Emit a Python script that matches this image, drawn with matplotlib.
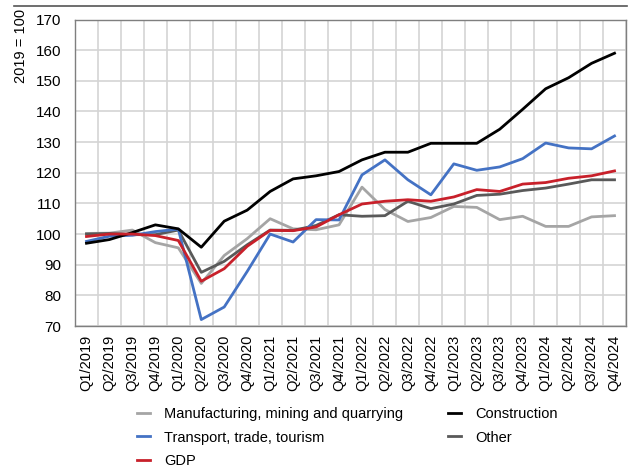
import matplotlib
matplotlib.use("Agg")
import matplotlib.pyplot as plt
from matplotlib import font_manager as fm
import matplotlib.lines as mlines

quarters = [f"Q{q}/{y}" for y in range(2019, 2025) for q in range(1, 5)]

manufacturing = [100.2, 100.3, 101.3, 97.2, 95.5, 83.9, 93.0, 98.5, 105.0, 101.7, 101.4, 103.0,
                 115.3, 108.0, 104.1, 105.4, 109.0, 108.7, 104.7, 105.8, 102.5, 102.5, 105.6, 106.0]
construction = [97.0, 98.2, 100.5, 103.0, 101.7, 95.7, 104.2, 107.8, 113.9, 118.0, 119.0, 120.4,
                124.2, 126.7, 126.7, 129.6, 129.6, 129.6, 134.2, 140.7, 147.4, 151.0, 155.7, 159.0]
transport = [97.6, 99.3, 99.6, 100.8, 101.6, 72.1, 76.2, 87.8, 100.0, 97.4, 104.7, 104.6,
             119.3, 124.2, 117.7, 112.8, 122.9, 120.8, 121.9, 124.6, 129.7, 128.1, 127.8, 132.0]
other = [100.0, 100.2, 99.8, 99.8, 101.3, 87.5, 91.1, 96.5, 101.3, 101.2, 102.8, 106.3,
         105.8, 106.0, 110.7, 108.3, 109.8, 112.6, 113.0, 114.2, 115.0, 116.3, 117.7, 117.7]
gdp = [99.2, 100.0, 100.0, 99.5, 97.9, 84.6, 88.7, 96.0, 101.2, 101.1, 102.3, 106.3,
       109.8, 110.7, 111.2, 110.7, 112.1, 114.5, 113.9, 116.3, 116.8, 118.2, 119.0, 120.6]

yticks = [70, 80, 90, 100, 110, 120, 130, 140, 150, 160, 170]

names = [f.name for f in fm.fontManager.ttflist]
fam = "Liberation Sans Narrow" if "Liberation Sans Narrow" in names else "Liberation Sans"
plt.rcParams["font.family"] = [fam, "DejaVu Sans"]

W, H = 628, 468
fig = plt.figure(figsize=(W / 100, H / 100), dpi=100)
ax = fig.add_axes([75 / W, 1 - 326 / H, 551 / W, (326 - 19.5) / H])

x = list(range(len(quarters)))
lw = 2.0
l_man, = ax.plot(x, manufacturing, color="#A5A5A5", lw=lw, label="Manufacturing, mining and quarrying")
l_oth, = ax.plot(x, other, color="#595959", lw=lw, label="Other")
l_tra, = ax.plot(x, transport, color="#4472C4", lw=lw, label="Transport, trade, tourism")
l_con, = ax.plot(x, construction, color="#000000", lw=lw, label="Construction")
l_gdp, = ax.plot(x, gdp, color="#C8202A", lw=lw, label="GDP")

ax.set_xlim(-0.5, len(quarters) - 0.5)
ax.set_ylim(70, 170)
ax.set_yticks(yticks)
ax.set_yticklabels([str(v) for v in yticks], fontsize=11)
ax.set_xticks(x)
ax.set_xticklabels(quarters, rotation=90, fontsize=10.5)
ax.set_xticks([i - 0.5 for i in range(len(quarters) + 1)], minor=True)
ax.tick_params(axis="x", which="major", length=0, pad=6)
ax.tick_params(axis="x", which="minor", length=0)
ax.tick_params(axis="y", length=0, pad=10)
ax.grid(True, which="minor", axis="x", color="#D4D4D4", lw=1.2)
ax.grid(True, which="major", axis="y", color="#D4D4D4", lw=1.2)
ax.set_axisbelow(True)
for s in ax.spines.values():
    s.set_color("#7F7F7F")
    s.set_linewidth(1.0)

fig.text(21 / W, 1 - 46 / H, "2019 = 100", rotation=90, ha="center", va="center", fontsize=10.5)

# top rule
fig.add_artist(mlines.Line2D([14 / W, 627 / W], [1 - 6 / H, 1 - 6 / H], color="#555555", lw=1.2))

handles = [l_man, l_tra, l_gdp, l_con, l_oth]
fig.legend(handles, [h.get_label() for h in handles], ncol=2, loc="upper left",
           bbox_to_anchor=(134 / W, 1 - 404 / H), frameon=False, fontsize=10.5,
           handlelength=0.9, handletextpad=0.95, columnspacing=3.1, labelspacing=0.66,
           borderaxespad=0, borderpad=0.2)

fig.savefig("out.png", dpi=100)
